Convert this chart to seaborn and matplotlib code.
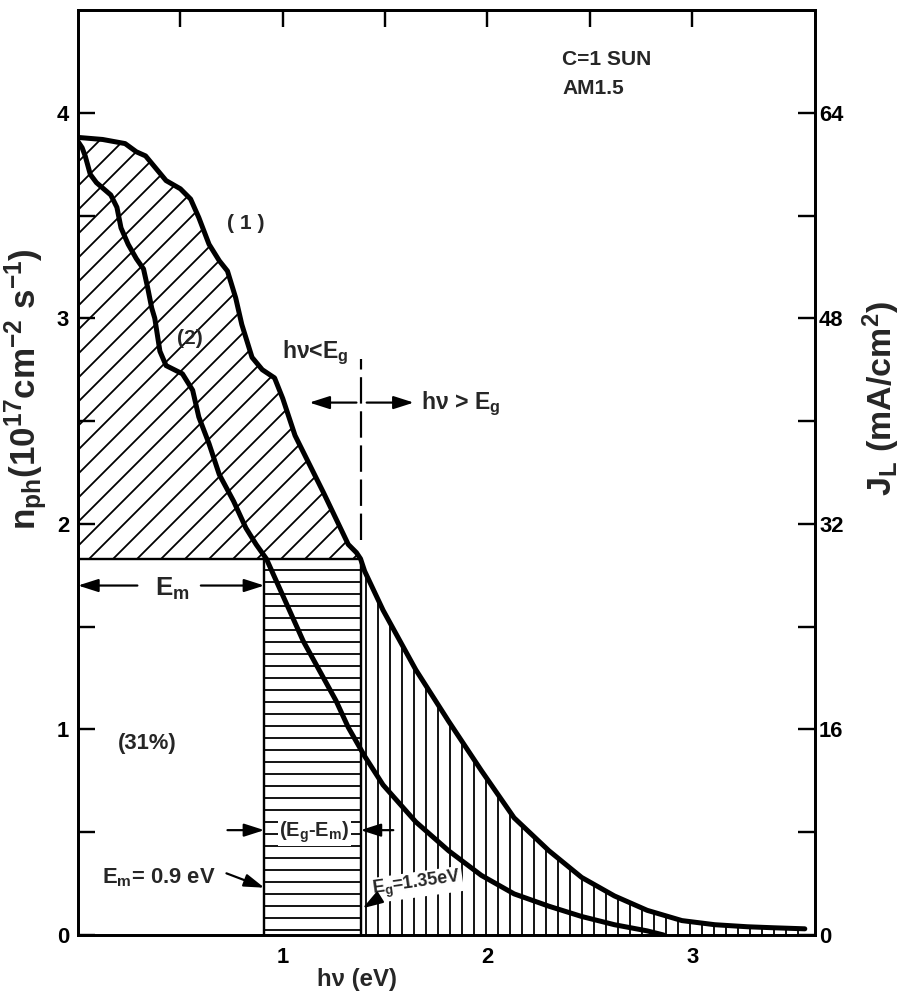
import numpy as np
import pandas as pd
import matplotlib
matplotlib.use("Agg")
import matplotlib.pyplot as plt
from matplotlib.ticker import FixedLocator
import seaborn as sns

# ---------------- data ----------------
# curve (1): photon flux with energy > h nu (AM1.5, 1 sun)
x1 = [0.00, 0.12, 0.23, 0.285, 0.33, 0.38, 0.43, 0.50, 0.55, 0.59, 0.64, 0.69,
      0.73, 0.77, 0.80, 0.85, 0.90, 0.96, 1.00, 1.06, 1.20, 1.32, 1.36, 1.38,
      1.40, 1.49, 1.65, 1.81, 1.97, 2.13, 2.30, 2.46, 2.62, 2.78, 2.95, 3.11,
      3.27, 3.40, 3.55]
y1 = [3.88, 3.87, 3.85, 3.81, 3.79, 3.73, 3.67, 3.63, 3.58, 3.49, 3.36, 3.28,
      3.23, 3.10, 2.97, 2.81, 2.75, 2.71, 2.61, 2.43, 2.15, 1.90, 1.86, 1.83,
      1.77, 1.58, 1.29, 1.04, 0.80, 0.57, 0.41, 0.28, 0.19, 0.12, 0.07, 0.05,
      0.04, 0.035, 0.03]
# curve (2)
x2 = [0.00, 0.02, 0.035, 0.06, 0.09, 0.16, 0.19, 0.21, 0.245, 0.285, 0.32,
      0.34, 0.36, 0.375, 0.40, 0.43, 0.51, 0.56, 0.59, 0.64, 0.69, 0.76, 0.82,
      0.87, 0.92, 1.10, 1.26, 1.32, 1.40, 1.49, 1.65, 1.81, 1.97, 2.13, 2.30,
      2.46, 2.62, 2.78, 2.86]
y2 = [3.86, 3.83, 3.79, 3.70, 3.66, 3.60, 3.54, 3.44, 3.36, 3.29, 3.24,
      3.15, 3.05, 3.00, 2.84, 2.77, 2.73, 2.65, 2.52, 2.39, 2.24, 2.11, 1.98,
      1.90, 1.83, 1.43, 1.14, 1.01, 0.87, 0.73, 0.55, 0.41, 0.29, 0.20, 0.14,
      0.09, 0.05, 0.02, 0.0]
EM = 0.91        # E_m (drawn position)
EG = 1.38        # E_g (drawn position)
N_CUT = 1.83     # n_ph at E_g
left_ticks = [0, 1, 2, 3, 4]
right_ticks = [0, 16, 32, 48, 64]
bottom_ticks = [1, 2, 3]

# ---------------- style ----------------
sns.set_theme(style="white")
plt.rcParams["font.family"] = ["Liberation Sans", "DejaVu Sans"]
plt.rcParams["font.weight"] = "bold"
plt.rcParams["axes.labelweight"] = "bold"
plt.rcParams["mathtext.fontset"] = "custom"
plt.rcParams["mathtext.rm"] = "Liberation Sans:bold"
plt.rcParams["mathtext.it"] = "Liberation Sans:bold"
plt.rcParams["mathtext.bf"] = "Liberation Sans:bold"
plt.rcParams["mathtext.default"] = "regular"
plt.rcParams["hatch.linewidth"] = 1.8
plt.rcParams["hatch.color"] = "black"
plt.rcParams["axes.edgecolor"] = "black"

DPI = 72
fig = plt.figure(figsize=(904 / DPI, 997 / DPI), dpi=DPI)
ax = fig.add_axes([0.0863, 0.0622, 0.8153, 0.9278])

x1a = np.array(x1); y1a = np.array(y1)
mask_lo = x1a <= EG + 1e-9
mask_hi = x1a >= EG - 1e-9

# hatched regions
ax.fill_between(x1a[mask_lo], N_CUT, y1a[mask_lo], facecolor="none",
                edgecolor="black", hatch="/", linewidth=0)
ax.fill_between([EM, EG], 0, N_CUT, facecolor="none", edgecolor="black",
                hatch="-", linewidth=0)
ax.fill_between(x1a[mask_hi], 0, y1a[mask_hi], facecolor="none",
                edgecolor="black", hatch="|", linewidth=0)

# frame lines of regions
ax.plot([0, EG], [N_CUT, N_CUT], color="black", lw=2.4)
ax.plot([EM, EM], [0, N_CUT], color="black", lw=2.4)
ax.plot([EG, EG], [0, N_CUT], color="black", lw=2.4)

# curves
df1 = pd.DataFrame({"x": x1, "y": y1})
df2 = pd.DataFrame({"x": x2, "y": y2})
sns.lineplot(data=df1, x="x", y="y", ax=ax, color="black", lw=5, sort=False,
             estimator=None)
sns.lineplot(data=df2, x="x", y="y", ax=ax, color="black", lw=5, sort=False,
             estimator=None)

# dashed E_g line
ax.plot([EG, EG], [1.92, 2.80], color="black", lw=2.2, dashes=(12, 3.5))

ax.set_xlim(0, 3.6)
ax.set_ylim(0, 4.5)

# ticks
ax.xaxis.set_major_locator(FixedLocator(bottom_ticks))
ax.xaxis.set_minor_locator(FixedLocator([0.5, 1.5, 2.5]))
ax.yaxis.set_major_locator(FixedLocator(left_ticks))
ax.yaxis.set_minor_locator(FixedLocator([0.5, 1.5, 2.5, 3.5]))
ax.tick_params(which="both", direction="in", length=17, width=2.4,
               top=True, right=False, labelsize=22, colors="black")
ax.tick_params(axis="y", pad=9)
ax.tick_params(axis="x", pad=12)
for s in ax.spines.values():
    s.set_linewidth(2.8)
    s.set_color("black")

ax2 = ax.twinx()
ax2.set_ylim(0, 72)
ax2.yaxis.set_major_locator(FixedLocator(right_ticks))
ax2.yaxis.set_minor_locator(FixedLocator([8, 24, 40, 56]))
ax2.tick_params(which="both", direction="in", length=17, width=2.4,
                labelsize=22, pad=4, colors="black")
for s in ax2.spines.values():
    s.set_linewidth(2.8)
    s.set_color("black")

# labels
ax.set_xlabel("hν (eV)", fontsize=24, fontweight="bold")
ax.xaxis.set_label_coords(0.379, -0.036)
ax.set_ylabel("n$_{ph}$(10$^{17}$cm$^{-2}$ s$^{-1}$)", fontsize=35,
              fontweight="bold")
ax.yaxis.label.set_va("center")
ax.yaxis.set_label_coords(-0.070, 0.59)
ax2.set_ylabel("J$_L$ (mA/cm$^2$)", fontsize=34, rotation=90,
               fontweight="bold")
ax2.yaxis.label.set_va("center")
ax2.yaxis.set_label_coords(1.090, 0.58)

# text annotations
wb = dict(facecolor="white", edgecolor="none", pad=1.0)
ax.text(2.366, 4.26, "C=1 SUN", fontsize=21, ha="left", va="center")
ax.text(2.366, 4.12, "AM1.5", fontsize=21, ha="left", va="center")
ax.text(0.82, 3.46, "( 1 )", fontsize=21, ha="center", va="center")
ax.text(0.545, 2.90, "(2)", fontsize=21, ha="center", va="center")
ax.text(1.16, 2.83, "hν<E$_g$", fontsize=23, ha="center", va="center")
ax.text(1.675, 2.585, "hν > E$_g$", fontsize=23, ha="left", va="center")
ax.text(0.46, 1.685, "E$_m$", fontsize=26, ha="center", va="center")
ax.text(0.34, 0.93, "(31%)", fontsize=22, ha="center", va="center")
ax.text(1.155, 0.50, "(E$_g$-E$_m$)", fontsize=20, ha="center", va="center",
        bbox=wb)
ax.text(0.395, 0.28, "E$_m$= 0.9 eV", fontsize=22, ha="center", va="center")
ax.text(1.655, 0.245, "E$_g$=1.35eV", fontsize=18, ha="center", va="center",
        rotation=8, bbox=wb)

ap = dict(arrowstyle="-|>,head_length=1.0,head_width=0.32", color="black",
          lw=2.2, shrinkA=0, shrinkB=0, mutation_scale=17)
ax.annotate("", xy=(0.0, 1.70), xytext=(0.29, 1.70), arrowprops=ap)
ax.annotate("", xy=(EM, 1.70), xytext=(0.60, 1.70), arrowprops=ap)
ax.annotate("", xy=(1.13, 2.59), xytext=(EG - 0.02, 2.59), arrowprops=ap)
ax.annotate("", xy=(1.64, 2.59), xytext=(EG + 0.03, 2.59), arrowprops=ap)
ax.annotate("", xy=(EM, 0.51), xytext=(0.73, 0.51), arrowprops=ap)
ax.annotate("", xy=(EG, 0.51), xytext=(1.54, 0.51), arrowprops=ap)
ax.annotate("", xy=(EM, 0.23), xytext=(0.725, 0.30), arrowprops=ap)
ax.annotate("", xy=(EG + 0.01, 0.13), xytext=(1.47, 0.18), arrowprops=ap)

fig.savefig("out.png", dpi=DPI)
